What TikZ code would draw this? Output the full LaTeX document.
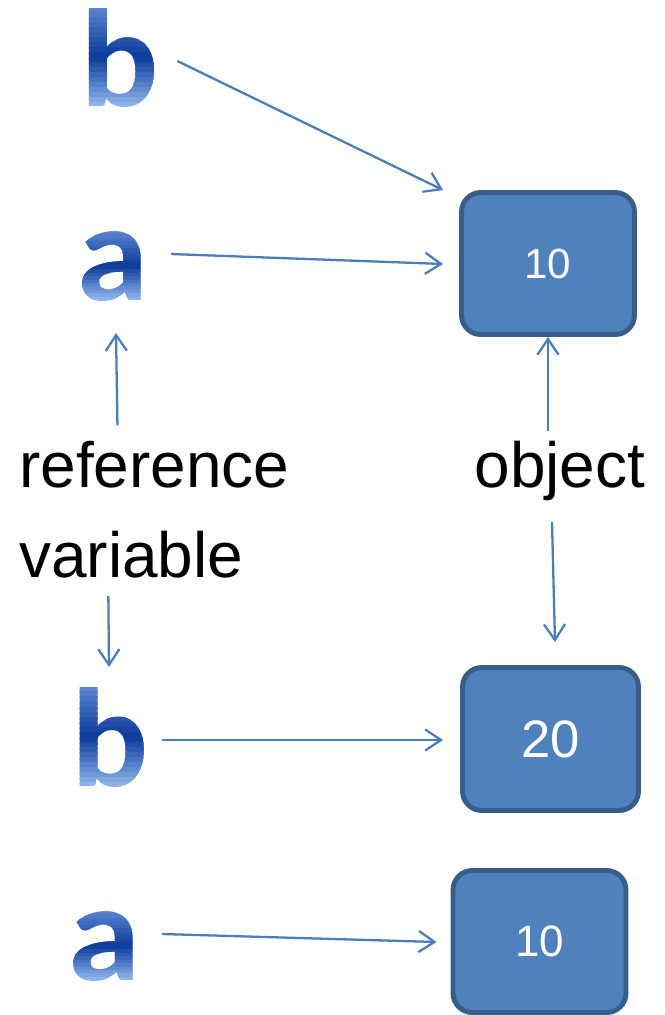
\documentclass[tikz,border=0pt]{standalone}
\usepackage{fontspec}
\setmainfont{Liberation Sans}
\newfontfamily\letterfont{Carlito}
\usepackage{graphicx}
\usetikzlibrary{arrows.meta,calc}

\definecolor{boxfill}{HTML}{4F81BD}
\definecolor{boxline}{HTML}{385D8A}
\definecolor{arrowblue}{HTML}{4A7EBB}
\definecolor{lettop}{HTML}{5B86D1}
\definecolor{letmid}{HTML}{0B3A9B}
\definecolor{letbot}{HTML}{93B9EE}

% big letter, coloured band by band (light - dark - light)
\newcommand{\gradletter}[5]{%
  \node[letter] (#1) at (#2) {\phantom{\resizebox*{#3}{#4}{#5}}};
  \foreach \i in {0,...,19}{%
    \pgfmathtruncatemacro{\p}{mod(\i,10)*10+5}
    \ifnum\i<10 \colorlet{bandcol}{letmid!\p!lettop}\else\colorlet{bandcol}{letbot!\p!letmid}\fi
    \begin{scope}
      \clip ($(#1.north west)!{\i/20}!(#1.south west)+(-5,-1)$) rectangle ($(#1.north east)!{(\i+1)/20}!(#1.south east)+(5,1)$);
      \node[letter, text=bandcol] at (#1.center) {\resizebox*{#3}{#4}{#5}};
    \end{scope}}%
}

\begin{document}
\begin{tikzpicture}[x=0.02cm, y=-0.02cm,
    letter/.style={inner sep=0, outer sep=0, font=\letterfont\bfseries},
    lbl/.style={inner sep=0, font=\fontsize{36.4pt}{44pt}\selectfont},
    objbox/.style={draw=boxline, line width=2.8pt, fill=boxfill, rounded corners=11pt,
      minimum width=3.46cm, minimum height=2.84cm, inner sep=0, text=white},
    ptr/.style={draw=arrowblue, line width=1.3pt, -{Straight Barb[length=9pt,width=12pt]}}]
    \useasboundingbox (0,0) rectangle (664,1015);

    % reference variables
    \gradletter{b1}{120,58.5}{44.7pt}{56.3pt}{b}
    \gradletter{a1}{113.5,267}{40.4pt}{39.8pt}{a}
    \gradletter{b2}{110.5,738}{44pt}{56.9pt}{b}
    \gradletter{a2}{105,947}{41pt}{39.8pt}{a}

    % objects
    \node[objbox, font=\fontsize{24pt}{24pt}\selectfont] (box1) at (548,263.5) {10};
    \node[objbox, minimum width=3.52cm, minimum height=2.86cm, font=\fontsize{30pt}{30pt}\selectfont] (box2) at (550.5,739) {20};
    \node[objbox, font=\fontsize{25pt}{25pt}\selectfont] (box3) at (539.5,941.5) {10};

    % labels
    \node[lbl, anchor=base west] (ref) at (19,487) {reference};
    \node[lbl, anchor=base west] (var) at (19,577) {variable};
    \node[lbl, anchor=base] (obj) at (560,487) {object};

    % pointers
    \draw[ptr] ([shift={(18,2.5)}]b1.east) -- ([shift={(-16,0)}]box1.north west);
    \draw[ptr] ([shift={(22,-13)}]a1.east) -- ([shift={(-16,0.5)}]box1.west);
    \draw[ptr] ([shift={(13,2)}]b2.east) -- ([shift={(-17,1)}]box2.west);
    \draw[ptr] ([shift={(21,-13)}]a2.east) -- ([shift={(-14,0.5)}]box3.west);

    \draw[ptr] ([shift={(-37,-15)}]ref.north) -- ([shift={(2.5,31)}]a1.south);
    \draw[ptr] ([shift={(-23,18)}]var.south) -- ([shift={(-1.5,-21)}]b2.north);
    \draw[ptr] ([shift={(-12,-9)}]obj.north) -- (box1.south);
    \draw[ptr] ([shift={(-8,21.5)}]obj.south) -- ([shift={(4.5,-23)}]box2.north);
\end{tikzpicture}
\end{document}
